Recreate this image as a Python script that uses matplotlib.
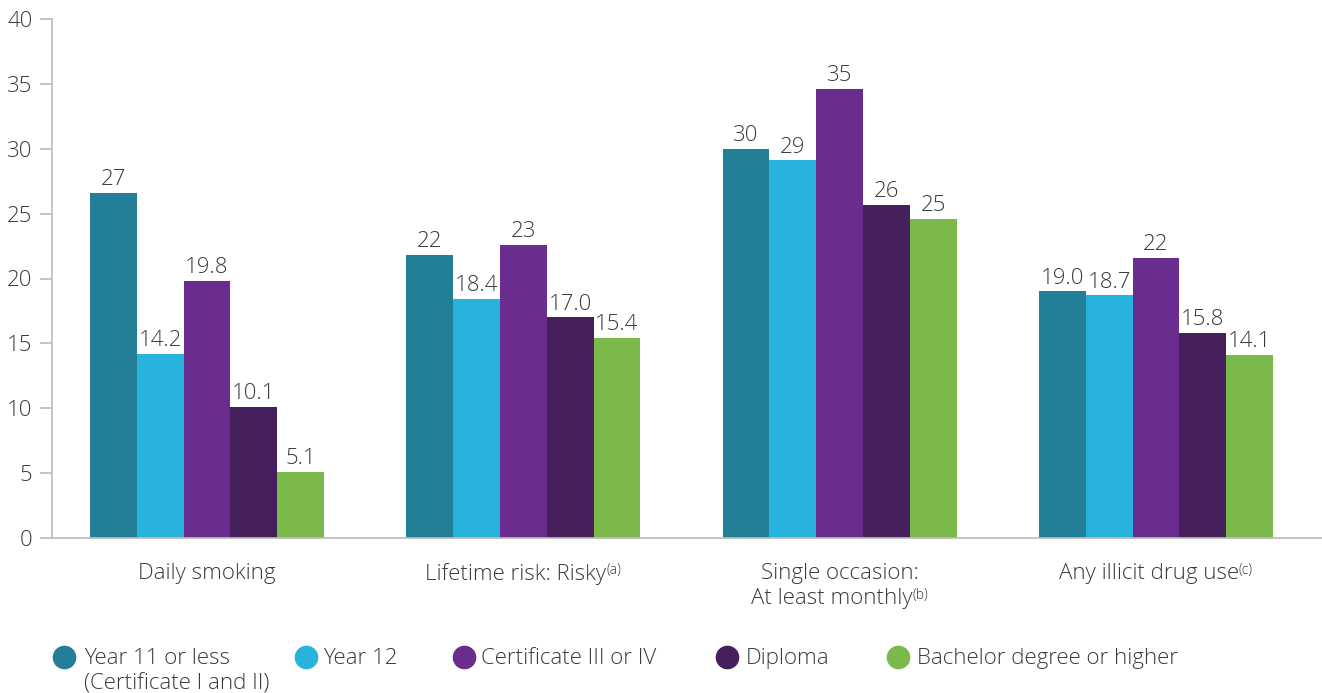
import matplotlib
matplotlib.use("Agg")
import matplotlib.pyplot as plt
from matplotlib.lines import Line2D
from matplotlib.offsetbox import TextArea, HPacker, VPacker, AnnotationBbox
import numpy as np

# Data: percentages by highest educational attainment
categories = ["Daily smoking", "Lifetime risk: Risky",
              "Single occasion:\nAt least monthly", "Any illicit drug use"]
footnotes = ["", "(a)", "(b)", "(c)"]
series_names = [
    "Year 11 or less\n(Certificate I and II)",
    "Year 12",
    "Certificate III or IV",
    "Diploma",
    "Bachelor degree or higher",
]
year11 = [26.6, 21.8, 30.0, 19.0]
year12 = [14.2, 18.4, 29.1, 18.7]
cert34 = [19.8, 22.6, 34.6, 21.6]
diploma = [10.1, 17.0, 25.7, 15.8]
bachelor = [5.1, 15.4, 24.6, 14.1]
y_ticks = [0, 5, 10, 15, 20, 25, 30, 35, 40]

series = [year11, year12, cert34, diploma, bachelor]
colors = ["#237E97", "#27B3DE", "#6A2C8E", "#46205C", "#7AB94A"]

TEXT = "#3a3a3a"
plt.rcParams["font.family"] = ["Open Sans", "DejaVu Sans"]
plt.rcParams["font.weight"] = "light"

fig = plt.figure(figsize=(13.22, 6.93), dpi=100)
W, H = 1322, 693
ax = fig.add_axes([52 / W, 1 - 538 / H, (W - 52) / W, (538 - 19) / H])

x = np.arange(len(categories))
bw = 0.148
offsets = (np.arange(len(series)) - 2) * bw


def fmt(v):
    return f"{v:.0f}" if v >= 20 else f"{v:.1f}"


for vals, off, col in zip(series, offsets, colors):
    bars = ax.bar(x + off, vals, width=bw, color=col, linewidth=0)
    for b, v in zip(bars, vals):
        ax.annotate(fmt(v), (b.get_x() + b.get_width() / 2, v),
                    xytext=(0, 2), textcoords="offset points",
                    ha="center", va="bottom", fontsize=16, color=TEXT,
                    fontweight="light")

ax.set_ylim(0, 40)
ax.set_xlim(-0.49, 3.525)
ax.set_yticks(y_ticks)
ax.set_yticklabels([str(t) for t in y_ticks])
ax.tick_params(axis="y", length=9, width=1.2, color="#bbbbbb", pad=5,
               labelsize=16, labelcolor=TEXT)
for lab in ax.get_yticklabels():
    lab.set_fontweight("light")
ax.set_xticks(x)
ax.set_xticklabels([])
ax.tick_params(axis="x", length=0)

for side in ["top", "right"]:
    ax.spines[side].set_visible(False)
for side in ["left", "bottom"]:
    ax.spines[side].set_color("#bbbbbb")
    ax.spines[side].set_linewidth(1.2)

# Category labels with superscript footnote markers
main_props = dict(fontsize=16, color=TEXT, fontweight="light")
sup_props = dict(fontsize=10, color=TEXT, fontweight="light")
for xi, cat, note in zip(x, categories, footnotes):
    lines = cat.split("\n")
    rows = []
    for k, line in enumerate(lines):
        parts = [TextArea(line, textprops=main_props)]
        if note and k == len(lines) - 1:
            parts.append(TextArea(note, textprops=sup_props))
        rows.append(HPacker(children=parts, align="top", pad=0, sep=0))
    box = VPacker(children=rows, align="center", pad=0, sep=3)
    ab = AnnotationBbox(box, (xi, 0), xybox=(0, -18),
                        xycoords=("data", "axes fraction"),
                        boxcoords="offset points", box_alignment=(0.5, 1),
                        frameon=False, annotation_clip=False)
    ax.add_artist(ab)

# Legend drawn along the bottom of the figure
legend_circle_x = [64, 306, 464, 727, 898]
legend_text_x = [84, 323, 481, 746, 917]
leg_y = 1 - 657 / H
for name, col, cx, tx in zip(series_names, colors, legend_circle_x, legend_text_x):
    fig.add_artist(Line2D([cx / W], [leg_y], marker="o", markersize=16,
                          color=col, linestyle="none",
                          transform=fig.transFigure))
    fig.text(tx / W, leg_y + 9 / H, name, ha="left", va="top", fontsize=16,
             color=TEXT, fontweight="light", linespacing=1.3)

fig.savefig("out.png", dpi=100, facecolor="white")
